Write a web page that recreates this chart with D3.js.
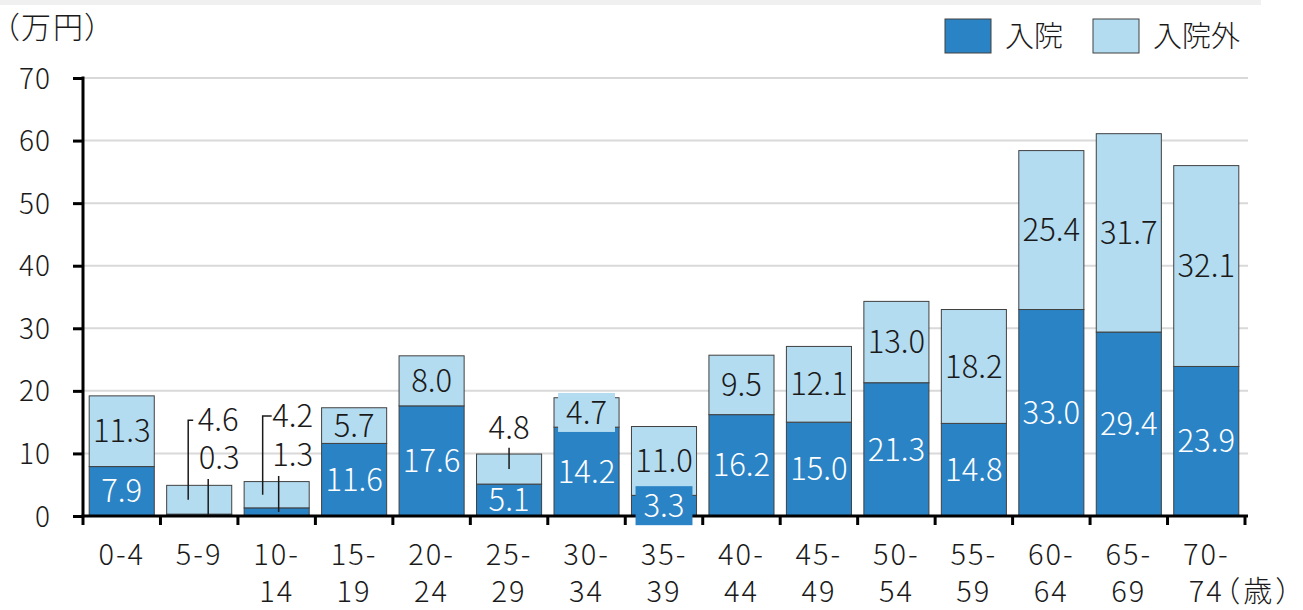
<!DOCTYPE html>
<html lang="ja">
<head>
<meta charset="utf-8">
<script src="https://cdn.jsdelivr.net/npm/d3@7"></script>
<style>
  html, body { margin: 0; padding: 0; background: #ffffff; }
  svg { display: block; font-family: "Noto Sans CJK JP", "Noto Sans", sans-serif; font-weight: 300; }
  .palt { font-feature-settings: "palt" 1; }
</style>
</head>
<body>
<svg id="chart" width="1303" height="610"></svg>
<script>
// Age groups (years) and per-person medical cost (10,000 yen)
const categories = ["0-4","5-9","10-14","15-19","20-24","25-29","30-34","35-39","40-44","45-49","50-54","55-59","60-64","65-69","70-74"];
const inpatient  = [7.9, 0.3, 1.3, 11.6, 17.6, 5.1, 14.2, 3.3, 16.2, 15.0, 21.3, 14.8, 33.0, 29.4, 23.9];
const outpatient = [11.3, 4.6, 4.2, 5.7, 8.0, 4.8, 4.7, 11.0, 9.5, 12.1, 13.0, 18.2, 25.4, 31.7, 32.1];
const seriesNames = ["入院", "入院外"];
const yTicks = [0, 10, 20, 30, 40, 50, 60, 70];
const yUnit = "（万円）";
const xUnit = "（歳）";

const colors = ["#2a83c5", "#b4dcf0"];
const textColors = ["#ffffff", "#1a1a1a"];

// Labels of small segments that sit outside the bar with a leader line
// (at / leaderTop in axis units, dx / leaderDx in px from the bar centre)
const callouts = [
  { cat: "5-9",   series: 1, at: 15.3, dx: 19, leaderDx: -11, leaderTop: 15.3, stubTo: -6 },
  { cat: "5-9",   series: 0, at: 9.3,  dx: 20, leaderDx: 9,   leaderTop: 5.9 },
  { cat: "10-14", series: 1, at: 16.0, dx: 16, leaderDx: -14, leaderTop: 16.0, stubTo: -5 },
  { cat: "10-14", series: 0, at: 9.7,  dx: 16, leaderDx: 2,   leaderTop: 6.4 },
  { cat: "25-29", series: 1, at: 14.1, dx: 0,  leaderDx: 0,   leaderTop: 10.9 }
];
// Labels drawn on a filled box in the segment colour
const boxed = [
  { cat: "30-34", series: 1 },
  { cat: "35-39", series: 0 }
];

const svg = d3.select("#chart");

const plot = { left: 83, right: 1245, top: 78, bottom: 516 };

const x = d3.scaleBand().domain(categories).range([plot.left, plot.right]).padding(0);
const barW = x.bandwidth() * 0.84;
const y = d3.scaleLinear().domain([0, 70]).range([plot.bottom, plot.top]);

// thin grey strip along the top edge
svg.append("rect").attr("x", 0).attr("y", 0).attr("width", 1261).attr("height", 5).attr("fill", "#f0f0f0");

// gridlines
svg.append("g").selectAll("line").data(yTicks.filter(t => t > 0)).join("line")
  .attr("x1", plot.left).attr("x2", plot.right + 3)
  .attr("y1", d => y(d)).attr("y2", d => y(d))
  .attr("stroke", "#d9d9d9").attr("stroke-width", 2);

// stacked data
const rows = categories.map((c, i) => ({ cat: c, v: [inpatient[i], outpatient[i]] }));
const stack = d3.stack().keys([0, 1]).value((d, k) => d.v[k]);
const layers = stack(rows);

const gBars = svg.append("g");
layers.forEach((layer, k) => {
  gBars.append("g").selectAll("rect").data(layer).join("rect")
    .attr("x", d => x(d.data.cat) + (x.bandwidth() - barW) / 2)
    .attr("width", barW)
    .attr("y", d => y(d[1]))
    .attr("height", d => y(d[0]) - y(d[1]))
    .attr("fill", colors[k])
    .attr("stroke", "#404040")
    .attr("stroke-width", 1);
});

// y axis
const yAxis = d3.axisLeft(y).tickValues(yTicks).tickSize(10).tickPadding(22).tickFormat(d3.format("d"));
const gy = svg.append("g").attr("transform", `translate(${plot.left},0)`).call(yAxis);
gy.select(".domain").attr("stroke", "#000").attr("stroke-width", 3).attr("d", `M0,${plot.top - 1.5}V${plot.bottom}`);
gy.selectAll(".tick line").attr("stroke", "#000").attr("stroke-width", 3);
gy.selectAll(".tick text").attr("font-size", 28).attr("fill", "#1a1a1a")
  .attr("font-family", "'Noto Sans CJK JP', sans-serif").attr("font-weight", 300)
  .attr("letter-spacing", 1).attr("dy", "0.36em");

// x axis: baseline plus ticks at category boundaries
const gx = svg.append("g");
gx.append("line").attr("x1", plot.left - 1.5).attr("x2", plot.right + 3)
  .attr("y1", plot.bottom).attr("y2", plot.bottom).attr("stroke", "#000").attr("stroke-width", 3);
const bounds = categories.map(c => x(c)).concat([plot.right]);
gx.selectAll("line.tk").data(bounds).join("line").attr("class", "tk")
  .attr("x1", d => d).attr("x2", d => d)
  .attr("y1", plot.bottom).attr("y2", plot.bottom + 9)
  .attr("stroke", "#000").attr("stroke-width", 3);

// category labels (two lines when the group starts with two digits)
const xFont = 29;
categories.forEach((c, i) => {
  const cx = x(c) + x.bandwidth() / 2;
  const [a, b] = c.split("-");
  const lines = a.length > 1 ? [a + "-", b] : [c];
  lines.forEach((t, j) => {
    const tx = svg.append("text").attr("x", cx).attr("y", 565 + j * 37)
      .attr("text-anchor", "middle").attr("font-size", xFont).attr("fill", "#1a1a1a")
      .attr("letter-spacing", 2).text(t);
    if (i === categories.length - 1 && j === 1) {
      const w = tx.node().getComputedTextLength();
      svg.append("text").attr("class", "palt").attr("x", cx + w / 2 + 1).attr("y", 565 + j * 37)
        .attr("font-size", xFont).attr("letter-spacing", 4).attr("fill", "#1a1a1a").text(xUnit);
    }
  });
});

// unit label on the y axis
svg.append("text").attr("class", "palt").attr("x", 4).attr("y", 38)
  .attr("font-size", 30).attr("letter-spacing", 2).attr("fill", "#1a1a1a").text(yUnit);

// legend
const leg = svg.append("g");
const legX = [945, 1093];
seriesNames.forEach((n, k) => {
  leg.append("rect").attr("x", legX[k]).attr("y", 19).attr("width", 46).attr("height", 34)
    .attr("fill", colors[k]).attr("stroke", "#404040").attr("stroke-width", 1);
  leg.append("text").attr("x", legX[k] + 60).attr("y", 47).attr("font-size", 29).attr("fill", "#1a1a1a").text(n);
});

// value labels
const vFont = 31;
const gLab = svg.append("g");
const findCall = (c, k) => callouts.find(o => o.cat === c && o.series === k);
const isBoxed = (c, k) => boxed.some(o => o.cat === c && o.series === k);

layers.forEach((layer, k) => {
  layer.forEach(d => {
    const c = d.data.cat;
    const cx = x(c) + x.bandwidth() / 2;
    const val = d.data.v[k];
    const label = val.toFixed(1);
    const co = findCall(c, k);
    if (co) {
      const mid = (d[0] + d[1]) / 2;
      const lx = cx + co.leaderDx;
      const path = d3.path();
      if (co.stubTo !== undefined) {
        path.moveTo(cx + co.stubTo, y(co.leaderTop));
        path.lineTo(lx, y(co.leaderTop));
      } else {
        path.moveTo(lx, y(co.leaderTop));
      }
      path.lineTo(lx, y(mid));
      gLab.append("path").attr("d", path.toString()).attr("fill", "none")
        .attr("stroke", "#1a1a1a").attr("stroke-width", 1.5);
      gLab.append("text").attr("x", cx + co.dx).attr("y", y(co.at)).attr("dy", "0.36em")
        .attr("text-anchor", "middle").attr("font-size", vFont).attr("fill", "#1a1a1a").text(label);
      return;
    }
    const cy = y((d[0] + d[1]) / 2);
    const t = gLab.append("text").attr("x", cx).attr("y", cy).attr("dy", "0.36em")
      .attr("text-anchor", "middle").attr("font-size", vFont).attr("fill", textColors[k]).text(label);
    if (isBoxed(c, k)) {
      const w = t.node().getComputedTextLength();
      gLab.insert("rect", () => t.node())
        .attr("x", cx - w / 2 - 8).attr("width", w + 16)
        .attr("y", cy - 19.5).attr("height", 39)
        .attr("fill", colors[k]);
    }
  });
});
</script>
</body>
</html>
